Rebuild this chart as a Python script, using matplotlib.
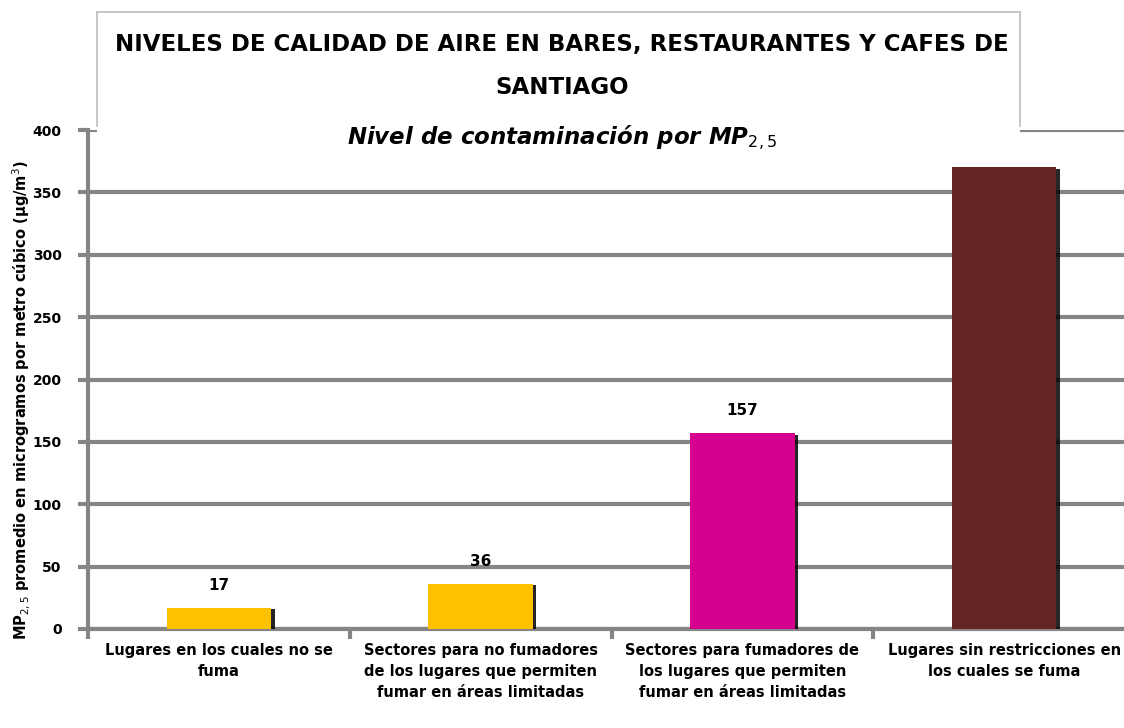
import matplotlib.pyplot as plt
import matplotlib.patheffects as pe
from matplotlib.patches import Rectangle
from matplotlib.lines import Line2D

plt.rcParams["font.family"] = ["DejaVu Sans"]

categories = [
    "Lugares en los cuales no se\nfuma",
    "Sectores para no fumadores\nde los lugares que permiten\nfumar en áreas limitadas",
    "Sectores para fumadores de\nlos lugares que permiten\nfumar en áreas limitadas",
    "Lugares sin restricciones en\nlos cuales se fuma",
]
values = [17, 36, 157, 370]
shown_labels = ["17", "36", "157", ""]
colors = ["#FFC000", "#FFC000", "#D6008F", "#632523"]
yticks = [0, 50, 100, 150, 200, 250, 300, 350, 400]

GRID = "#858585"
W, H = 1124, 728

fig = plt.figure(figsize=(W / 100, H / 100), dpi=100)
ax = fig.add_axes([88 / W, 1 - 629 / H, (1135 - 88) / W, (629 - 130) / H])

x = range(len(categories))
bars = ax.bar(x, values, width=0.4, color=colors, zorder=3)
for b in bars:
    b.set_path_effects([
        pe.SimplePatchShadow(offset=(2.5, -1), shadow_rgbFace="black", alpha=0.85),
        pe.Normal(),
    ])

for xi, v, lab in zip(x, values, shown_labels):
    if lab:
        ax.text(xi, v + 12, lab, ha="center", va="bottom",
                fontsize=11, fontweight="bold", zorder=4)

ax.set_xlim(-0.5, 3.5)
ax.set_ylim(0, 400)
ax.set_yticks(yticks)
ax.set_yticklabels([str(t) for t in yticks], fontsize=10, fontweight="bold")
ax.yaxis.grid(True, color=GRID, linewidth=3, zorder=0)

# category boundaries as major ticks, names as minor tick labels
ax.set_xticks([i + 0.5 for i in range(-1, 4)])
ax.set_xticklabels([])
ax.set_xticks(list(x), minor=True)
ax.set_xticklabels(categories, minor=True, fontsize=10.5, fontweight="bold",
                   linespacing=1.5)
ax.tick_params(axis="x", which="minor", length=0, pad=10)
ax.tick_params(axis="x", which="major", length=7, width=3, color=GRID)
ax.tick_params(axis="y", length=7, width=3, color=GRID, pad=12)

for s in ["top", "right"]:
    ax.spines[s].set_visible(False)
for s in ["left", "bottom"]:
    ax.spines[s].set_color(GRID)
    ax.spines[s].set_linewidth(3)

fig.text(21 / W, 1 - 400 / H,
         "MP$_{2,5}$ promedio en microgramos por metro cúbico (µg/m$^3$)",
         rotation=90, ha="center", va="center", fontsize=10.5, fontweight="bold")

# title box
x0, x1 = 97 / W, 1020 / W
y_top, y_edge, y_fill = 1 - 12 / H, 1 - 126 / H, 1 - 160 / H
fig.add_artist(Rectangle((x0, y_fill), x1 - x0, y_top - y_fill,
                         transform=fig.transFigure, facecolor="white",
                         edgecolor="none", zorder=5))
for xs, ys in [([x0, x0], [y_edge, y_top]), ([x0, x1], [y_top, y_top]),
               ([x1, x1], [y_top, y_edge])]:
    fig.add_artist(Line2D(xs, ys, transform=fig.transFigure,
                          color="#BDBDBD", linewidth=1.2, zorder=6))

fig.text(0.5, 1 - 45 / H,
         "NIVELES DE CALIDAD DE AIRE EN BARES, RESTAURANTES Y CAFES DE",
         ha="center", va="center", fontsize=16.5, fontweight="bold", zorder=7)
fig.text(0.5, 1 - 88 / H, "SANTIAGO",
         ha="center", va="center", fontsize=16.5, fontweight="bold", zorder=7)
fig.text(0.5, 1 - 138 / H, "Nivel de contaminación por MP$_{2,5}$",
         ha="center", va="center", fontsize=16.5, fontweight="bold",
         style="italic", zorder=7)

fig.savefig("out.png", dpi=100)
